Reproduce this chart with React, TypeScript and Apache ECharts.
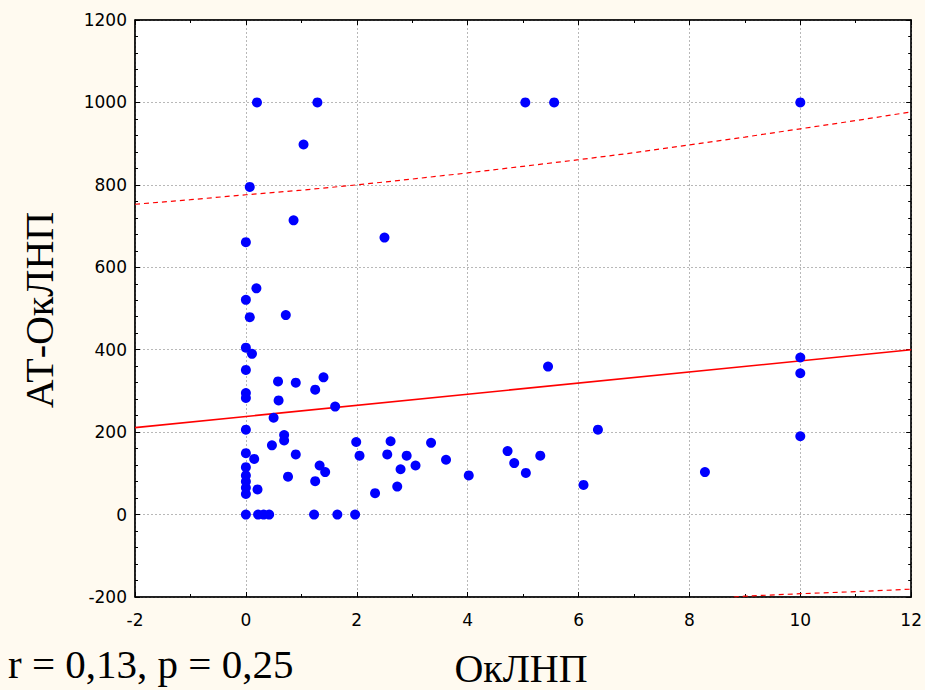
import React, { useEffect, useRef } from "react";
import * as echarts from "echarts";

// Scatter data
const xs: number[] = [
  0, 0, 0, 0, 0, 0, 0, 0, 0, 0, 0, 0, 0, 0,
  0.07, 0.07, 0.11, 0.15, 0.19, 0.2, 0.21, 0.22, 0.32, 0.42,
  0.47, 0.5, 0.58, 0.59, 0.69, 0.69, 0.72, 0.76, 0.86, 0.9, 0.9,
  1.04, 1.23, 1.25, 1.25, 1.29, 1.33, 1.4, 1.43, 1.61, 1.65, 1.97, 1.99,
  2.05, 2.33, 2.5, 2.55, 2.61, 2.73, 2.79, 2.9, 3.06, 3.34, 3.61,
  4.02, 4.72, 4.84, 5.04, 5.05, 5.31, 5.45, 5.56, 6.09, 6.35, 8.28,
  10, 10, 10, 10,
];
const ys: number[] = [
  0, 50, 65, 80, 95, 115, 149, 206, 283, 295, 351, 405, 521, 661,
  479, 795, 390, 135, 549, 1000, 61, 0, 0, 0,
  168, 235, 323, 277, 193, 180, 484, 92, 714, 320, 146,
  898, 0, 303, 81, 1000, 119, 333, 103, 262, 0, 0, 176,
  143, 52, 672, 146, 178, 68, 110, 143, 119, 174, 133,
  95, 154, 125, 1000, 101, 143, 359, 1000, 72, 206, 103,
  1000, 381, 343, 190,
];

// Regression line (end points)
const fitX: number[] = [-2, 12];
const fitY: number[] = [211, 400];

// Upper prediction band read at integer x
const upperX: number[] = [-2, -1, 0, 1, 2, 3, 4, 5, 6, 7, 8, 9, 10, 11, 12];
const upperY: number[] = [753, 764, 776, 787, 800, 814, 829, 845, 861, 878, 897, 916, 936, 956, 977];

// Lower prediction band (visible part)
const lowerX: number[] = [8.8, 9, 10, 11, 12];
const lowerY: number[] = [-200, -198, -192, -187, -181];

const xTicks = { min: -2, max: 12, interval: 2 };
const yTicks = { min: -200, max: 1200, interval: 200 };

const statText = "r = 0,13, p = 0,25";
const xTitle = "ОкЛНП";
const yTitle = "АТ-ОкЛНП";

const BG = "#FFFAF0";

export default function App() {
  const ref = useRef<HTMLDivElement>(null);
  useEffect(() => {
    document.body.style.margin = "0";
    document.body.style.background = BG;
    if (!ref.current) return;
    const chart = echarts.init(ref.current, null, { renderer: "svg" });
    const tickFont = {
      fontFamily: "DejaVu Sans", fontSize: 17, color: "#000",
      formatter: (v: number) => String(v),
    };
    const gridLine = { show: true, lineStyle: { color: "#b8b8b8", type: [2, 2] as any, width: 1 } };
    const axisLine = { show: true, onZero: false, lineStyle: { color: "#000", width: 1.5 } };
    const baseX = {
      type: "value" as const,
      min: xTicks.min,
      max: xTicks.max,
      interval: xTicks.interval,
      axisLine,
      axisTick: { show: true, inside: true, length: 5, lineStyle: { color: "#000" } },
      minorTick: { show: true, splitNumber: 2, length: 3, lineStyle: { color: "#000" } },
    };
    const baseY = {
      type: "value" as const,
      min: yTicks.min,
      max: yTicks.max,
      interval: yTicks.interval,
      axisLine,
      axisTick: { show: true, inside: true, length: 5, lineStyle: { color: "#000" } },
      minorTick: { show: true, splitNumber: 5, length: 3, lineStyle: { color: "#000" } },
    };
    chart.setOption({
      animation: false,
      backgroundColor: BG,
      grid: {
        left: 135, right: 12, top: 20, bottom: 93,
        show: true, backgroundColor: "#fff", borderColor: "#000", borderWidth: 1,
      },
      xAxis: [
        {
          ...baseX,
          position: "bottom",
          splitLine: gridLine,
          axisLabel: { ...tickFont, margin: 14 },
        },
        {
          ...baseX,
          position: "top",
          splitLine: { show: false },
          axisLabel: { show: false },
        },
      ],
      yAxis: [
        {
          ...baseY,
          position: "left",
          splitLine: gridLine,
          axisLabel: { ...tickFont, margin: 8 },
        },
        {
          ...baseY,
          position: "right",
          splitLine: { show: false },
          axisLabel: { show: false },
        },
      ],
      series: [
        {
          type: "line",
          data: upperX.map((x, i) => [x, upperY[i]]),
          symbol: "none",
          lineStyle: { color: "#ff0000", width: 1.2, type: [5, 4] },
          z: 3,
        },
        {
          type: "line",
          data: lowerX.map((x, i) => [x, lowerY[i]]),
          symbol: "none",
          lineStyle: { color: "#ff0000", width: 1.2, type: [5, 4] },
          z: 3,
        },
        {
          type: "line",
          data: fitX.map((x, i) => [x, fitY[i]]),
          symbol: "none",
          lineStyle: { color: "#ff0000", width: 1.6 },
          z: 3,
        },
        {
          type: "scatter",
          data: xs.map((x, i) => [x, ys[i]]),
          symbol: "circle",
          symbolSize: 10,
          itemStyle: { color: "#0000ff", opacity: 1 },
          z: 4,
        },
      ],
      graphic: [
        {
          type: "text",
          left: 8,
          top: 643,
          style: { text: statText, font: "41px 'Liberation Serif'", fill: "#000" },
        },
        {
          type: "text",
          x: 521,
          y: 668,
          style: {
            text: xTitle, font: "40px 'Liberation Serif'", fill: "#000",
            textAlign: "center", textVerticalAlign: "middle",
          },
        },
        {
          type: "text",
          x: 39,
          y: 310,
          rotation: Math.PI / 2,
          style: {
            text: yTitle, font: "40px 'Liberation Serif'", fill: "#000",
            textAlign: "center", textVerticalAlign: "middle",
          },
        },
      ],
    });
    return () => chart.dispose();
  }, []);
  return <div ref={ref} style={{ width: 925, height: 690 }} />;
}
